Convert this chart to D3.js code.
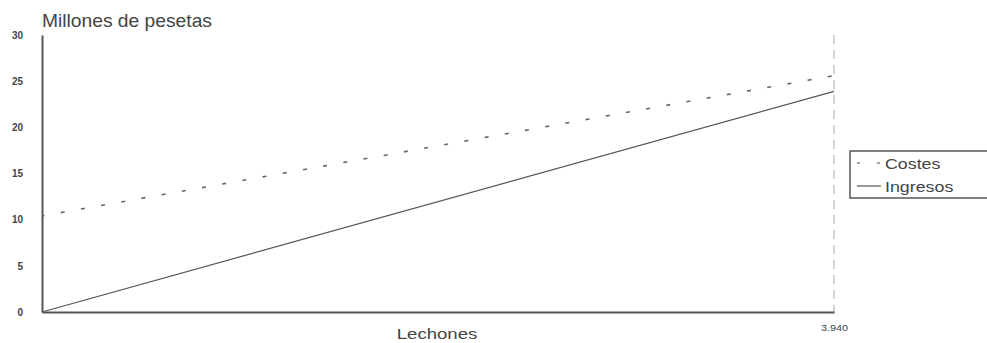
<!DOCTYPE html>
<html><head><meta charset="utf-8">
<script src="https://cdn.jsdelivr.net/npm/d3@7"></script>
<style>body{margin:0;background:#fff}svg{display:block;font-family:"Liberation Sans",Arial,sans-serif}</style>
</head><body><svg id="c" width="987" height="343"></svg>
<script>
const lechones = [0, 3940];
const costes = [10.4, 25.6];
const ingresos = [0, 23.9];
const yTicks = [0, 5, 10, 15, 20, 25, 30];
const xTickLabels = ["3.940"];
const seriesNames = ["Costes", "Ingresos"];

const svg = d3.select("#c");
const x = d3.scaleLinear().domain([0, 3940]).range([42, 834]);
const y = d3.scaleLinear().domain([0, 30]).range([312, 35]);
const ink = "#555";

function label(px, py, txt, size, anchor, sx) {
  return svg.append("text").attr("transform", `translate(${px},${py}) scale(${sx},1)`)
    .attr("text-anchor", anchor || "start").attr("font-size", size).attr("fill", "#444").text(txt);
}

// vertical dashed reference line at max
svg.append("line").attr("x1", x(3940)).attr("x2", x(3940)).attr("y1", y(30)).attr("y2", y(0))
  .attr("stroke", "#aaa").attr("stroke-width", 1).attr("stroke-dasharray", "9,6");

// axes
const yAxis = d3.axisLeft(y).tickValues(yTicks).tickSize(0).tickPadding(19);
const gy = svg.append("g").attr("transform", "translate(42,0)").call(yAxis);
gy.select(".domain").attr("stroke", ink).attr("stroke-width", 2);
gy.selectAll("text").attr("fill", "#444").attr("font-size", 10).attr("font-weight", "bold");

const xAxis = d3.axisBottom(x).tickValues([3940]).tickFormat((d, i) => xTickLabels[i]).tickSize(0).tickPadding(13);
const gx = svg.append("g").attr("transform", "translate(0,312)").call(xAxis);
gx.select(".domain").attr("stroke", ink).attr("stroke-width", 2);
gx.selectAll("text").attr("fill", "#444").attr("font-size", 9).attr("transform", "scale(1.2,1)");

const line = d3.line().x(d => x(d[0])).y(d => y(d[1]));
svg.append("path").datum(lechones.map((v, i) => [v, costes[i]])).attr("d", line)
  .attr("fill", "none").attr("stroke", "#666").attr("stroke-width", 1.6).attr("stroke-dasharray", "4,16.5")
  .attr("stroke-dashoffset", -19);
svg.append("path").datum(lechones.map((v, i) => [v, ingresos[i]])).attr("d", line)
  .attr("fill", "none").attr("stroke", "#555").attr("stroke-width", 1.2);

// titles
label(42, 27, "Millones de pesetas", 17.5, "start", 1.1);
label(437, 339, "Lechones", 15.5, "middle", 1.2);

// legend
const lg = svg.append("g");
lg.append("rect").attr("x", 850).attr("y", 151).attr("width", 150).attr("height", 47)
  .attr("fill", "#fff").attr("stroke", ink).attr("stroke-width", 1.5);
const ly = [163, 186];
lg.append("line").attr("x1", 857).attr("x2", 883).attr("y1", ly[0]).attr("y2", ly[0])
  .attr("stroke", "#888").attr("stroke-width", 1.4).attr("stroke-dasharray", "3,17");
lg.append("line").attr("x1", 857).attr("x2", 881).attr("y1", ly[1]).attr("y2", ly[1])
  .attr("stroke", "#555").attr("stroke-width", 1.2);
seriesNames.forEach((n, i) => {
  label(885, ly[i] + 6, n, 15.5, "start", 1.15);
});
</script></body></html>
